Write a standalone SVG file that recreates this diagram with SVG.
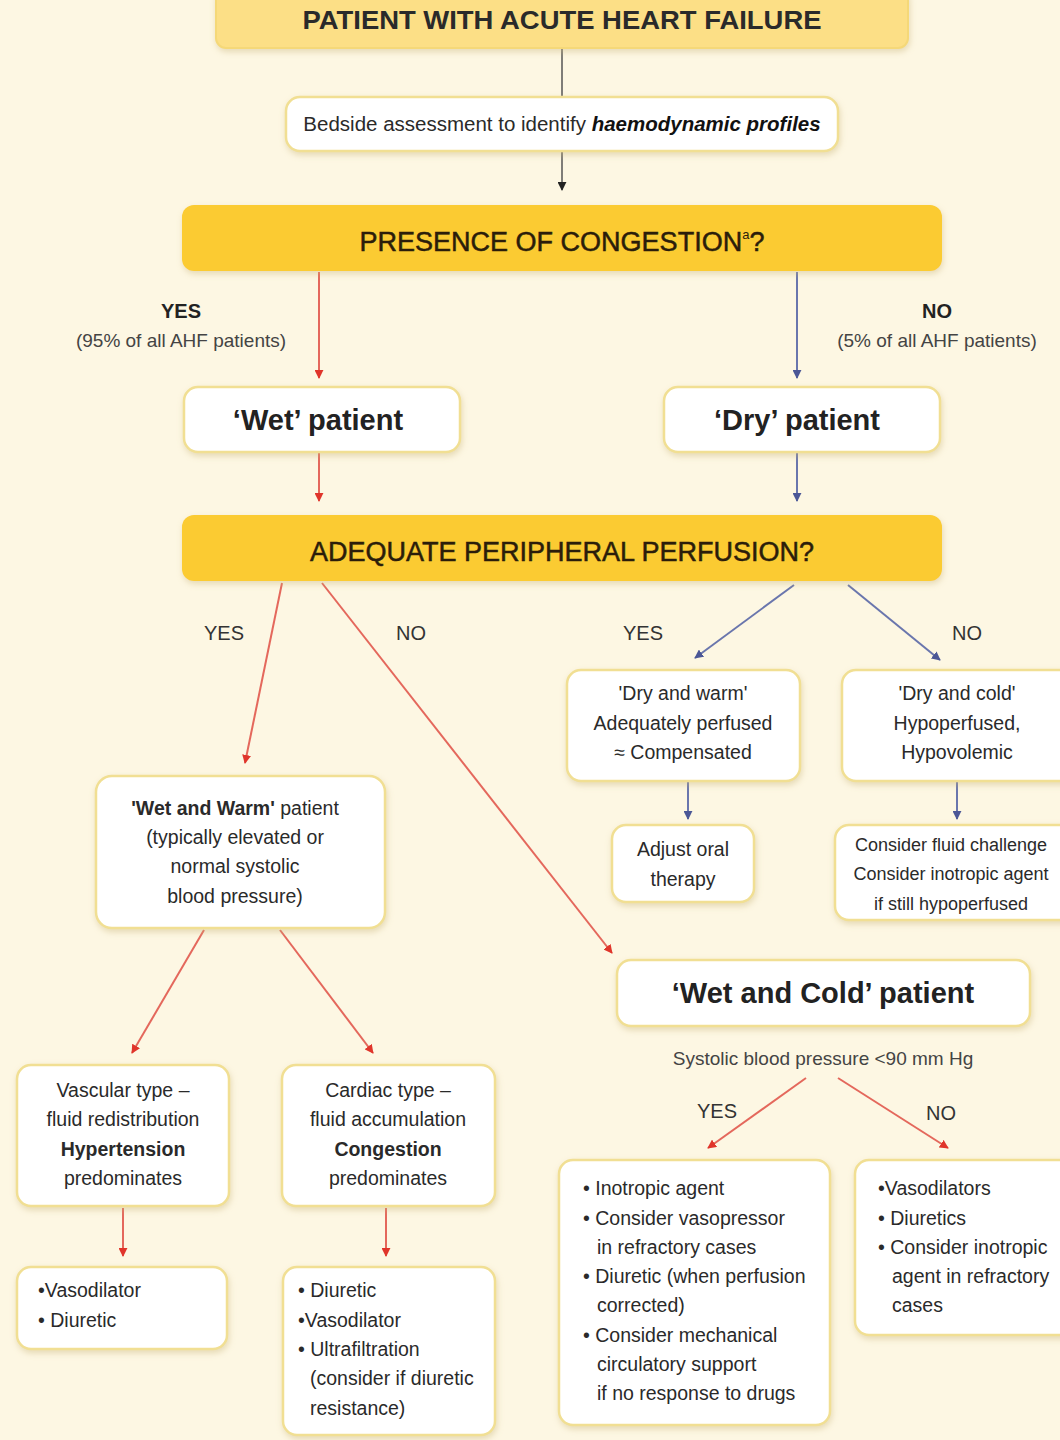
<svg xmlns="http://www.w3.org/2000/svg" width="1060" height="1440" viewBox="0 0 1060 1440">
<defs>
<style>
text{font-family:"Liberation Sans",Arial,sans-serif;fill:#2a2a2a}
.box{fill:#ffffff;stroke:#f1df93;stroke-width:2.5;filter:url(#sh)}
.hdr{fill:#fbcb33;filter:url(#sh)}
.top{fill:#fcdf86;stroke:#f5d878;stroke-width:2;filter:url(#sh)}
.ht{font-size:27px;text-anchor:middle;fill:#2b1d0a;stroke:#2b1d0a;stroke-width:0.5}
.t{font-size:19.5px;text-anchor:middle}
.tl{font-size:19.5px}
.big{font-size:29px;font-weight:bold;text-anchor:middle;fill:#222}
.lab{font-size:20px;text-anchor:middle;fill:#333}
.labb{font-size:20px;font-weight:bold;text-anchor:middle;fill:#222}
.sub{font-size:19px;text-anchor:middle;fill:#444}
.red{stroke:#e4685c;stroke-width:2;fill:none}
.blue{stroke:#6a76ad;stroke-width:2;fill:none}
.blk{stroke:#555;stroke-width:1.5;fill:none}
</style>
<filter id="sh" x="-10%" y="-20%" width="120%" height="150%">
<feDropShadow dx="1" dy="3" stdDeviation="3" flood-color="#c9b57a" flood-opacity="0.45"/>
</filter>
<marker id="ar" viewBox="0 0 10 10" refX="9" refY="5" markerWidth="9" markerHeight="9" markerUnits="userSpaceOnUse" orient="auto"><path d="M0,0 L10,5 L0,10 z" fill="#e0352b"/></marker>
<marker id="ab" viewBox="0 0 10 10" refX="9" refY="5" markerWidth="9" markerHeight="9" markerUnits="userSpaceOnUse" orient="auto"><path d="M0,0 L10,5 L0,10 z" fill="#4b5796"/></marker>
<marker id="ak" viewBox="0 0 10 10" refX="9" refY="5" markerWidth="9" markerHeight="9" markerUnits="userSpaceOnUse" orient="auto"><path d="M0,0 L10,5 L0,10 z" fill="#222"/></marker>
</defs>
<rect width="1060" height="1440" fill="#fdf7e3"/>

<g id="connectors">
<line class="blk" x1="562" y1="48" x2="562" y2="97"/>
<line class="blk" x1="562" y1="151" x2="562" y2="190" marker-end="url(#ak)"/>
<line class="red" x1="319" y1="272" x2="319" y2="378" marker-end="url(#ar)"/>
<line class="blue" x1="797" y1="272" x2="797" y2="378" marker-end="url(#ab)"/>
<line class="red" x1="319" y1="453" x2="319" y2="501" marker-end="url(#ar)"/>
<line class="blue" x1="797" y1="453" x2="797" y2="501" marker-end="url(#ab)"/>
<line class="red" x1="282" y1="583" x2="245" y2="763" marker-end="url(#ar)"/>
<line class="red" x1="322" y1="583" x2="612" y2="953" marker-end="url(#ar)"/>
<line class="blue" x1="794" y1="585" x2="695" y2="658" marker-end="url(#ab)"/>
<line class="blue" x1="848" y1="585" x2="940" y2="660" marker-end="url(#ab)"/>
<line class="blue" x1="688" y1="782" x2="688" y2="819" marker-end="url(#ab)"/>
<line class="blue" x1="957" y1="782" x2="957" y2="819" marker-end="url(#ab)"/>
<line class="red" x1="204" y1="930" x2="132" y2="1053" marker-end="url(#ar)"/>
<line class="red" x1="280" y1="930" x2="373" y2="1053" marker-end="url(#ar)"/>
<line class="red" x1="123" y1="1208" x2="123" y2="1256" marker-end="url(#ar)"/>
<line class="red" x1="386" y1="1208" x2="386" y2="1256" marker-end="url(#ar)"/>
<line class="red" x1="806" y1="1078" x2="708" y2="1148" marker-end="url(#ar)"/>
<line class="red" x1="838" y1="1078" x2="948" y2="1148" marker-end="url(#ar)"/>
</g>

<g id="labels">
<text class="labb" x="181" y="318">YES</text>
<text class="sub" x="181" y="347">(95% of all AHF patients)</text>
<text class="labb" x="937" y="318">NO</text>
<text class="sub" x="937" y="347">(5% of all AHF patients)</text>
<text class="lab" x="224" y="640">YES</text>
<text class="lab" x="411" y="640">NO</text>
<text class="lab" x="643" y="640">YES</text>
<text class="lab" x="967" y="640">NO</text>
<text class="sub" x="823" y="1065">Systolic blood pressure &lt;90 mm Hg</text>
<text class="lab" x="717" y="1118">YES</text>
<text class="lab" x="941" y="1120">NO</text>
</g>

<g id="n-start">
<rect class="top" x="216" y="-12" width="692" height="60" rx="10"/>
<text x="562" y="29" font-size="25" font-weight="bold" text-anchor="middle" fill="#2b1d0a" textLength="519" lengthAdjust="spacingAndGlyphs">PATIENT WITH ACUTE HEART FAILURE</text>
</g>
<g id="n-bedside">
<rect class="box" x="286" y="97" width="552" height="54" rx="14"/>
<text x="562" y="131" font-size="20.5" text-anchor="middle">Bedside assessment to identify <tspan font-weight="bold" font-style="italic" fill="#111">haemodynamic profiles</tspan></text>
</g>
<g id="n-congestion">
<rect class="hdr" x="182" y="205" width="760" height="66" rx="12"/>
<text class="ht" x="562" y="251">PRESENCE OF CONGESTION<tspan font-size="13" dy="-12" stroke-width="0">a</tspan><tspan dy="12">?</tspan></text>
</g>
<g id="n-wet">
<rect class="box" x="184" y="387" width="276" height="65" rx="14"/>
<text class="big" x="318" y="430">‘Wet’ patient</text>
</g>
<g id="n-dry">
<rect class="box" x="664" y="387" width="276" height="65" rx="14"/>
<text class="big" x="797" y="430">‘Dry’ patient</text>
</g>
<g id="n-perfusion">
<rect class="hdr" x="182" y="515" width="760" height="66" rx="12"/>
<text class="ht" x="562" y="561">ADEQUATE PERIPHERAL PERFUSION?</text>
</g>
<g id="n-drywarm">
<rect class="box" x="567" y="670" width="233" height="111" rx="14"/>
<text class="t" x="683" y="700">'Dry and warm'</text>
<text class="t" x="683" y="730">Adequately perfused</text>
<text class="t" x="683" y="759">≈ Compensated</text>
</g>
<g id="n-drycold">
<rect class="box" x="842" y="670" width="240" height="111" rx="14"/>
<text class="t" x="957" y="700">'Dry and cold'</text>
<text class="t" x="957" y="730">Hypoperfused,</text>
<text class="t" x="957" y="759">Hypovolemic</text>
</g>
<g id="n-oral">
<rect class="box" x="612" y="825" width="142" height="77" rx="14"/>
<text class="t" x="683" y="856">Adjust oral</text>
<text class="t" x="683" y="886">therapy</text>
</g>
<g id="n-fluid">
<rect class="box" x="835" y="825" width="250" height="95" rx="14"/>
<text x="951" y="851" font-size="18" text-anchor="middle">Consider fluid challenge</text>
<text x="951" y="880" font-size="18" text-anchor="middle">Consider inotropic agent</text>
<text x="951" y="910" font-size="18" text-anchor="middle">if still hypoperfused</text>
</g>
<g id="n-wetwarm">
<rect class="box" x="96" y="776" width="289" height="152" rx="16"/>
<text class="t" x="235" y="815"><tspan font-weight="bold">'Wet and Warm'</tspan> patient</text>
<text class="t" x="235" y="844">(typically elevated or</text>
<text class="t" x="235" y="873">normal systolic</text>
<text class="t" x="235" y="903">blood pressure)</text>
</g>
<g id="n-wetcold">
<rect class="box" x="617" y="960" width="413" height="66" rx="14"/>
<text class="big" x="823" y="1003">‘Wet and Cold’ patient</text>
</g>
<g id="n-vascular">
<rect class="box" x="17" y="1065" width="212" height="141" rx="14"/>
<text class="t" x="123" y="1097">Vascular type –</text>
<text class="t" x="123" y="1126">fluid redistribution</text>
<text class="t" x="123" y="1156" font-weight="bold">Hypertension</text>
<text class="t" x="123" y="1185">predominates</text>
</g>
<g id="n-cardiac">
<rect class="box" x="282" y="1065" width="213" height="141" rx="14"/>
<text class="t" x="388" y="1097">Cardiac type –</text>
<text class="t" x="388" y="1126">fluid accumulation</text>
<text class="t" x="388" y="1156" font-weight="bold">Congestion</text>
<text class="t" x="388" y="1185">predominates</text>
</g>
<g id="n-vasc-tx">
<rect class="box" x="17" y="1267" width="210" height="82" rx="14"/>
<text class="tl" x="38" y="1297">•Vasodilator</text>
<text class="tl" x="38" y="1327">• Diuretic</text>
</g>
<g id="n-card-tx">
<rect class="box" x="283" y="1267" width="212" height="168" rx="14"/>
<text class="tl" x="298" y="1297">• Diuretic</text>
<text class="tl" x="298" y="1327">•Vasodilator</text>
<text class="tl" x="298" y="1356">• Ultrafiltration</text>
<text class="tl" x="310" y="1385">(consider if diuretic</text>
<text class="tl" x="310" y="1415">resistance)</text>
</g>
<g id="n-yes-tx">
<rect class="box" x="559" y="1160" width="271" height="265" rx="14"/>
<text class="tl" x="583" y="1195">• Inotropic agent</text>
<text class="tl" x="583" y="1225">• Consider vasopressor</text>
<text class="tl" x="597" y="1254">in refractory cases</text>
<text class="tl" x="583" y="1283">• Diuretic (when perfusion</text>
<text class="tl" x="597" y="1312">corrected)</text>
<text class="tl" x="583" y="1342">• Consider mechanical</text>
<text class="tl" x="597" y="1371">circulatory support</text>
<text class="tl" x="597" y="1400">if no response to drugs</text>
</g>
<g id="n-no-tx">
<rect class="box" x="855" y="1160" width="230" height="175" rx="14"/>
<text class="tl" x="878" y="1195">•Vasodilators</text>
<text class="tl" x="878" y="1225">• Diuretics</text>
<text class="tl" x="878" y="1254">• Consider inotropic</text>
<text class="tl" x="892" y="1283">agent in refractory</text>
<text class="tl" x="892" y="1312">cases</text>
</g>
</svg>
